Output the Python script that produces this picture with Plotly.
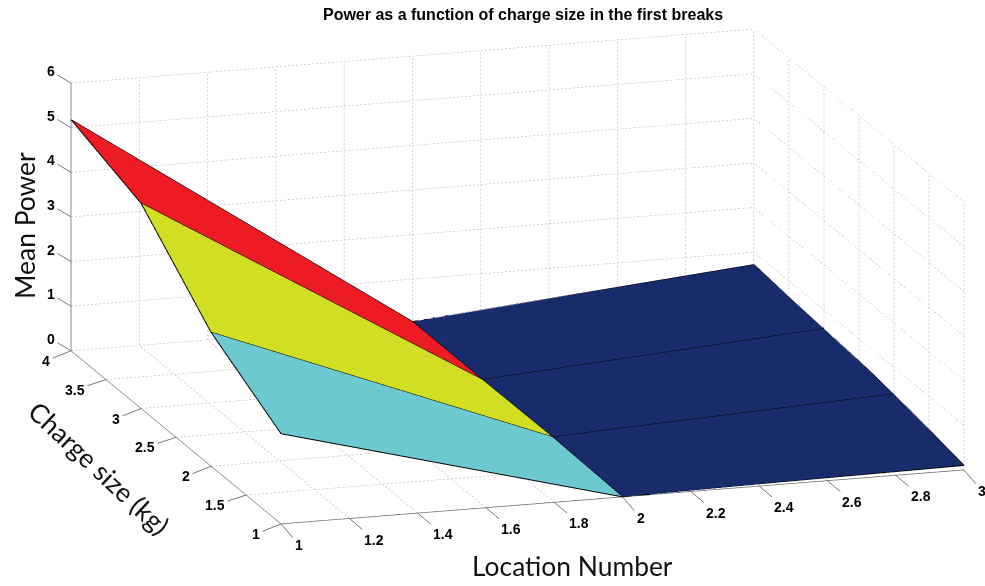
import plotly.graph_objects as go

locations = [1, 2, 3]
charges = [1, 2, 3, 4]
# power[i][j]: charge index i, location index j
power_c1 = [2.02, 0.00, 0.10]
power_c2 = [3.00, 0.05, 0.41]
power_c3 = [4.60, 0.04, 0.58]
power_c4 = [5.18, 0.05, 0.72]
power = [power_c1, power_c2, power_c3, power_c4]

x_ticks = [1, 1.2, 1.4, 1.6, 1.8, 2, 2.2, 2.4, 2.6, 2.8, 3]
x_labels = ["1", "1.2", "1.4", "1.6", "1.8", "2", "2.2", "2.4", "2.6", "2.8", "3"]
y_ticks = [1, 1.5, 2, 2.5, 3, 3.5, 4]
y_labels = ["1", "1.5", "2", "2.5", "3", "3.5", "4"]
z_ticks = [0, 1, 2, 3, 4, 5, 6]
z_labels = ["0", "1", "2", "3", "4", "5", "6"]
cell_colors = [["#6BC9CF", "#182C6B"], ["#D2DE24", "#182C6B"], ["#ED1C24", "#182C6B"]]

# mesh
nx, ny = len(locations), len(charges)
vx, vy, vz = [], [], []
for j, c in enumerate(charges):
    for i, l in enumerate(locations):
        vx.append(l); vy.append(c); vz.append(power[j][i])
ii, jj, kk, fc = [], [], [], []
for j in range(ny - 1):
    for i in range(nx - 1):
        a = j * nx + i; b = a + 1; d = a + nx; e = d + 1
        ii += [a, a]; jj += [b, e]; kk += [e, d]
        fc += [cell_colors[j][i]] * 2

fig = go.Figure()
fig.add_trace(go.Mesh3d(x=vx, y=vy, z=vz, i=ii, j=jj, k=kk, facecolor=fc, flatshading=True,
                        lighting=dict(ambient=1, diffuse=0, specular=0, fresnel=0, roughness=1),
                        hoverinfo="skip", showscale=False))

# surface edges
ex, ey, ez = [], [], []
for j, c in enumerate(charges):
    ex += locations + [None]; ey += [c] * nx + [None]; ez += power[j] + [None]
for i, l in enumerate(locations):
    ex += [l] * ny + [None]; ey += charges + [None]; ez += [power[j][i] for j in range(ny)] + [None]
fig.add_trace(go.Scatter3d(x=ex, y=ey, z=ez, mode="lines", line=dict(color="#000000", width=2),
                           hoverinfo="skip", showlegend=False))

# dotted grid on the two back walls and the floor, built from the tick arrays
gx, gy, gz = [], [], []
xa, xb = x_ticks[0], x_ticks[-1]
ya, yb = y_ticks[0], y_ticks[-1]
za, zb = z_ticks[0], z_ticks[-1]


def dotted(p, q, n):
    for s in range(n):
        t0, t1 = s / n, (s + 0.5) / n
        for t in (t0, t1):
            gx.append(p[0] + (q[0] - p[0]) * t)
            gy.append(p[1] + (q[1] - p[1]) * t)
            gz.append(p[2] + (q[2] - p[2]) * t)
        gx.append(None); gy.append(None); gz.append(None)


N_X, N_Y, N_Z = 170, 68, 67
for t in x_ticks:
    dotted((t, yb, za), (t, yb, zb), N_Z)
    dotted((t, ya, za), (t, yb, za), N_Y)
for t in y_ticks:
    dotted((xb, t, za), (xb, t, zb), N_Z)
    dotted((xa, t, za), (xb, t, za), N_X)
for t in z_ticks:
    dotted((xa, yb, t), (xb, yb, t), N_X)
    dotted((xb, ya, t), (xb, yb, t), N_Y)
fig.add_trace(go.Scatter3d(x=gx, y=gy, z=gz, mode="lines", line=dict(color="#a8a8a8", width=1),
                           hoverinfo="skip", showlegend=False))

axis_common = dict(title=dict(text=""), showgrid=False, zeroline=False, showbackground=False, showspikes=False,
                   showline=True, linecolor="#666666", linewidth=1.5, ticks="", showticklabels=False)

tick_font = dict(family="Liberation Sans", size=14, color="black", weight="bold")
tick_style = dict(showarrow=True, arrowhead=0, arrowwidth=1, arrowcolor="#777777", startstandoff=1, font=tick_font)
scene_notes = []
for t, s in zip(x_ticks, x_labels):
    scene_notes.append(dict(x=t, y=ya, z=za, text=s, ax=18 if len(s) == 1 else 25, ay=21, **tick_style))
for t, s in zip(y_ticks, y_labels):
    scene_notes.append(dict(x=xa, y=t, z=za, text=s, ax=-25 if len(s) == 1 else -31, ay=10, **tick_style))
for t, s in zip(z_ticks, z_labels):
    scene_notes.append(dict(x=xa, y=yb, z=t, text=s, ax=-20, ay=-12, **tick_style))

k = 4.0
center = (-0.0858, 0.0115, -0.0544)
view_dir = (-0.2861, -0.9237, 0.2553)
fig.update_layout(
    width=985, height=586, autosize=False, paper_bgcolor="white", showlegend=False,
    margin=dict(l=0, r=0, t=0, b=0),
    scene=dict(
        domain=dict(x=[0, 1], y=[0, 1]),
        xaxis=dict(range=[1, 3], tickmode="array", tickvals=x_ticks, ticktext=x_labels, **axis_common),
        yaxis=dict(range=[1, 4], tickmode="array", tickvals=y_ticks, ticktext=y_labels, **axis_common),
        zaxis=dict(range=[0, 6], tickmode="array", tickvals=z_ticks, ticktext=z_labels, **axis_common),
        aspectmode="manual", aspectratio=dict(x=2.44, y=2.423, z=0.945),
        camera=dict(projection=dict(type="orthographic"), up=dict(x=0, y=0, z=1),
                    center=dict(x=center[0], y=center[1], z=center[2]),
                    eye=dict(x=center[0] + view_dir[0] * k, y=center[1] + view_dir[1] * k, z=center[2] + view_dir[2] * k)),
        annotations=scene_notes,
    ),
    title=dict(text="<b>Power as a function of charge size in the first breaks</b>", x=0.531, y=0.976, xanchor="center", yanchor="middle",
               font=dict(family="Liberation Sans", size=16, color="black")),
    annotations=[
        dict(text="Location Number", x=572, y=566, xref="paper", yref="paper", showarrow=False, xanchor="center", yanchor="middle",
             font=dict(family="Lato", size=26.4, color="#111111")),
        dict(text="Mean Power", x=25, y=226, xref="paper", yref="paper", textangle=-90, showarrow=False, xanchor="center", yanchor="middle",
             font=dict(family="Lato", size=26.4, color="#111111")),
        dict(text="Charge size (kg)", x=99, y=468, xref="paper", yref="paper", textangle=43, showarrow=False, xanchor="center", yanchor="middle",
             font=dict(family="Lato", size=26.4, color="#111111")),
    ],
)
for a in fig.layout.annotations:
    a.x = a.x / 985
    a.y = 1 - a.y / 586
fig.write_html("out.html", post_script="document.body.style.margin='0';", config={"displayModeBar": False})
